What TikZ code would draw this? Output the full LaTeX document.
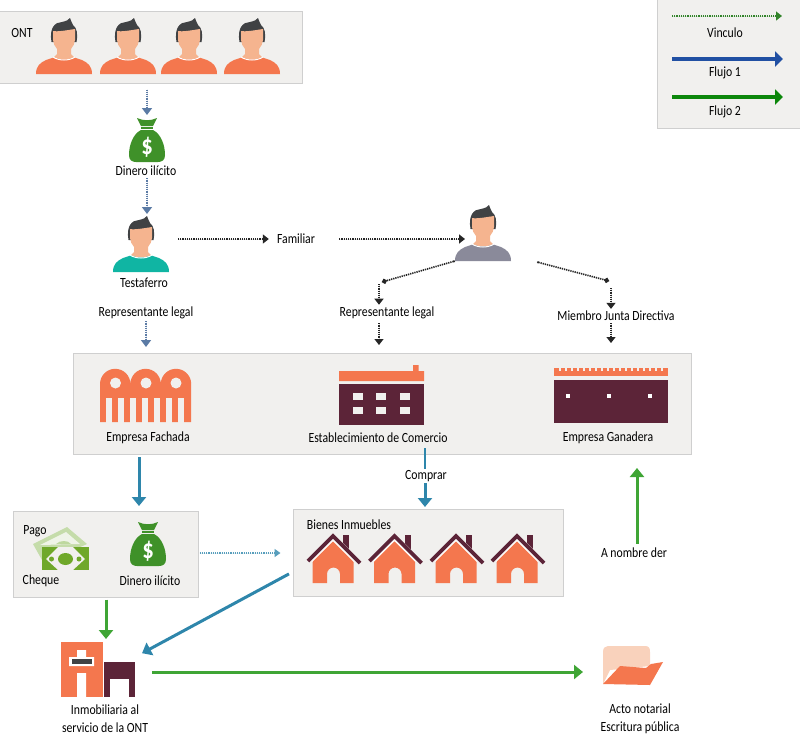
\documentclass[tikz,border=0pt]{standalone}
\usepackage{fontspec}
\setmainfont[FakeStretch=0.84]{Carlito}
\usepackage{xcolor}
\usetikzlibrary{arrows.meta,calc}
\definecolor{panelfill}{HTML}{F1F0EE}
\definecolor{panelline}{HTML}{CFCFCF}
\definecolor{shirt}{HTML}{F4774E}
\definecolor{skin}{HTML}{F5B48F}
\definecolor{hair}{HTML}{404244}
\definecolor{maroon}{HTML}{5C2438}
\definecolor{money}{HTML}{3F9129}
\definecolor{leaf}{HTML}{6FA82A}
\definecolor{flowteal}{HTML}{2E86AB}
\definecolor{flowgreen}{HTML}{3FA535}
\definecolor{flowblue}{HTML}{2150A3}
\definecolor{steel}{HTML}{5B7BA5}
\definecolor{tealshirt}{HTML}{10B5A3}
\definecolor{greyshirt}{HTML}{8A8A9A}
\tikzset{
  panel/.style={draw=panelline, fill=panelfill, line width=1pt, inner sep=0pt},
  holder/.style={inner sep=0pt, outer sep=0pt},
  lbl/.style={font=\fontsize{14}{18}\selectfont, inner sep=1pt, text=black},
  link/.style={line width=1.7pt, dash pattern=on 1.2pt off 1pt, draw=black!85, -{Triangle[length=6pt,width=9pt]}},
  steelink/.style={link, draw=steel, -{Triangle[length=7pt,width=10pt]}},
  tealflow/.style={line width=3pt, flowteal, -{Triangle[length=9pt,width=14pt]}},
  greenflow/.style={line width=3pt, flowgreen, -{Triangle[length=9pt,width=14pt]}},
  pics/person/.style={code={
    \fill[#1] (-28,0) .. controls (-28,-8) and (-24,-11) .. (-18,-14) -- (-9,-17) -- (9,-17) -- (18,-14) .. controls (24,-11) and (28,-8) .. (28,0) -- cycle;
    \fill[skin] (-7,-27) -- (-7,-20) -- (-10,-17) .. controls (-5,-14) and (5,-14) .. (10,-17) -- (7,-20) -- (7,-27) -- cycle;
    \draw[white, line width=1pt] (-11,-17) .. controls (-5,-13) and (5,-13) .. (11,-17);
    \fill[hair] (-12.5,-32) .. controls (-15,-46) and (-9,-52) .. (-2,-52) .. controls (2,-53) and (5,-54) .. (6,-56) .. controls (7,-53) and (8,-51) .. (9,-49) .. controls (13,-46) and (14,-40) .. (12.5,-32) -- cycle;
    \fill[skin] (-11,-43) .. controls (-6,-42) and (4,-44) .. (11,-45) -- (11,-34) .. controls (10.5,-27) and (5,-22) .. (0,-22) .. controls (-5,-22) and (-10.5,-27) .. (-11,-34) -- cycle;
  }},
  pics/moneybag/.style={code={
    \fill[money] (-10,-44) .. controls (-4,-41) and (4,-41) .. (10,-44) -- (6,-36) -- (-6,-36) -- cycle;
    \fill[money] (-6,-35) rectangle (6,-33);
    \fill[money] (-6,-32) -- (6,-32) .. controls (14,-28) and (18,-17) .. (18,-7) .. controls (18,-2) and (15,0) .. (11,0) -- (-11,0) .. controls (-15,0) and (-18,-2) .. (-18,-7) .. controls (-18,-17) and (-14,-28) .. (-6,-32) -- cycle;
    \node[text=white, font=\fontsize{27}{27}\selectfont\bfseries, inner sep=0pt] at (0,-15) {\$};
  }},
  pics/house/.style={code={
    \fill[maroon] (10,-48) rectangle (16,-30);
    \fill[panelfill] (0,-50) -- (20,-30) -- (10,-24) -- (-10,-24) -- cycle;
    \fill[shirt] (-20.5,-22) -- (0,-42) -- (20.5,-22) -- (20.5,0) -- (7,0) -- (7,-9) arc (0:-180:6.5) -- (-6,0) -- (-20.5,0) -- cycle;
    \draw[white, line width=1pt] (-21,-21.5) -- (0,-42.5) -- (21,-21.5);
    \draw[maroon, line width=3.8pt] (-25,-22) -- (0,-47) -- (27,-20);
  }}
}
\begin{document}
\begin{tikzpicture}[x=1pt, y=-1pt]
\useasboundingbox (0,0) rectangle (800,740);
% panels
\node[panel, minimum width=304pt, minimum height=72pt] (ontbox) at (150,47) {};
\node[panel, minimum width=144pt, minimum height=130pt] (legendbox) at (729,63) {};
\node[panel, minimum width=618pt, minimum height=101pt] (mainbox) at (382,404) {};
\node[panel, minimum width=185pt, minimum height=86pt] (paybox) at (105.5,554) {};
\node[panel, minimum width=270pt, minimum height=87pt] (housebox) at (428,552.5) {};
% people
\foreach \px in {64,128,189,252}
  \pic at (\px,74) {person=shirt};
\pic at (141,272) {person=tealshirt};
\pic at (483,261) {person=greyshirt};
\node[holder, minimum width=56pt, minimum height=56pt] (testaferro) at (141,244) {};
\node[holder, minimum width=56pt, minimum height=56pt] (relative) at (483,233) {};
% money bags
\pic at (147,162) {moneybag};
\pic at (148,566) {moneybag};
\node[holder, minimum width=36pt, minimum height=44pt] (bagtop) at (147,140) {};
\node[holder, minimum width=36pt, minimum height=46pt] (bagpay) at (148,543) {};
% cheque
\fill[leaf!40!white] (33,544) -- (67,527) -- (87,544) -- (60,556) -- (42,560) -- cycle;
\fill[panelfill!70!leaf!30!white] (40,545) -- (66,532) -- (80,544) -- cycle;
\fill[leaf!45!white] (56,544) .. controls (60,540) and (68,540) .. (71,544) -- cycle;
\fill[leaf] (42,547) rectangle (89,570);
\fill[panelfill] (46,559) -- (58,547) -- (73,547) -- (85,559) -- (73,570) -- (58,570) -- cycle;
\fill[leaf] (65.5,559) ellipse (7.5 and 6) (51.5,559) circle (2.5) (79,559) circle (2.5);
% fachada
\fill[shirt] (100,384) arc (180:360:15.2) arc (180:360:15.2) arc (180:360:15.2) -- (191,422) -- (100,422) -- cycle;
\foreach \cx in {115.5,146,176}
  \fill[panelfill] (\cx,383) circle (5.5);
\foreach \gx in {106,118,130,142,154,166,178}
  \fill[panelfill] (\gx,398) rectangle ++(6,24.5);
% comercio
\fill[shirt] (339,371) rectangle (424,381) (413,365) rectangle (418.5,371);
\fill[maroon] (339,384) rectangle (424,425);
\foreach \wx in {358,381,405}
  \foreach \wy in {396,410}
    \fill[panelfill] (\wx-5,\wy-3.5) rectangle ++(10,7);
% ganadera
\fill[shirt] (554,368) rectangle (668,376);
\foreach \i in {0,...,17}
  \fill[panelfill] (558.5+\i*6,368) rectangle ++(2,3);
\fill[maroon] (554,380) rectangle (668,423);
\foreach \sx in {568,609,650}
  \fill[white] (\sx-2,394) rectangle ++(4,4);
% houses
\foreach \hx in {333,394.5,456,517}
  \pic at (\hx,583) {house};
% inmobiliaria
\fill[shirt] (61,642) rectangle (103,697);
\fill[white] (77,650) rectangle (86,666) (69,657) rectangle (94,666) (77,673) rectangle (86,697);
\fill[hair] (72,659) rectangle (92,664);
\fill[maroon] (104,662) rectangle (135,697);
\fill[white] (110,679) rectangle (129,697);
\node[holder, minimum width=74pt, minimum height=55pt] (inmo) at (98,669.5) {};
% folder
\fill[skin!60!white] (603,684) -- (603,652) .. controls (603,648) and (605,646) .. (608,646) -- (645,646) .. controls (649,646) and (650,648) .. (650,652) -- (650,666) -- (610,670) -- cycle;
\fill[shirt] (603,684) -- (620,666) -- (646,668) -- (651,664) -- (663,662) -- (650,685) -- cycle;
\node[holder, minimum width=60pt, minimum height=40pt] (folder) at (633,665) {};
% labels
\node[lbl] (ontlbl) at (22,33) {ONT};
\node[lbl] (dinerotop) at (146,171) {Dinero ilícito};
\node[lbl] (testalbl) at (144,283) {Testaferro};
\node[lbl] (replegala) at (146,313) {Representante legal};
\node[lbl] (familiar) at (296,239) {Familiar};
\node[lbl] (replegalb) at (387,313) {Representante legal};
\node[lbl] (miembro) at (616,316) {Miembro Junta Directiva};
\node[lbl] (fachada) at (148,438) {Empresa Fachada};
\node[lbl] (comercio) at (378,438) {Establecimiento de Comercio};
\node[lbl] (ganadera) at (608,438) {Empresa Ganadera};
\node[lbl] (comprar) at (426,476) {Comprar};
\node[lbl] (pago) at (35,531) {Pago};
\node[lbl] (cheque) at (41,581) {Cheque};
\node[lbl] (dineropay) at (150,581) {Dinero ilícito};
\node[lbl] (bienes) at (349,525) {Bienes Inmuebles};
\node[lbl] (anombre) at (634,553) {A nombre der};
\node[lbl, align=center] (inmolbl) at (105,719) {Inmobiliaria al\\servicio de la ONT};
\node[lbl, align=center] (actolbl) at (640,719) {Acto notarial\\Escritura pública};
\node[lbl] (vinculo) at (725,33) {Vinculo};
\node[lbl] (flujoa) at (725,73) {Flujo 1};
\node[lbl] (flujob) at (725,112) {Flujo 2};
% legend
\coordinate (legstarta) at (672,16); \coordinate (legenda) at (782,16);
\coordinate (legstartb) at (672,59); \coordinate (legendb) at (783,59);
\coordinate (legstartc) at (672,97); \coordinate (legendc) at (783,97);
\draw[link, draw=flowgreen!80!black, fill=flowgreen!80!black, line width=1.2pt] (legstarta) -- (legenda);
\draw[line width=3.5pt, flowblue, -{Triangle[length=8pt,width=15pt]}] (legstartb) -- (legendb);
\draw[line width=3.5pt, green!50!black!80!flowgreen, -{Triangle[length=8pt,width=15pt]}] (legstartc) -- (legendc);
% links
\draw[steelink, fill=steel, shorten <=6pt, shorten >=3pt] (ontbox.south -| bagtop.north) -- (bagtop.north);
\draw[steelink, fill=steel, shorten <=1pt, shorten >=2pt] (dinerotop.south -| bagtop.north) -- (testaferro.north -| bagtop.north);
\draw[steelink, fill=steel, shorten <=1pt, shorten >=6pt] (replegala.south) -- (mainbox.north -| replegala.south);
\draw[link, fill=black!85, shorten <=9pt, shorten >=7pt] (testaferro.east |- familiar.west) -- (familiar.west);
\draw[link, fill=black!85, shorten <=23pt, shorten >=18pt] (familiar.east) -- (relative.center |- familiar.east);
\coordinate (kneeb) at (379,283);
\coordinate (kneec) at (611,284);
\draw[link, fill=black!85, {Circle[length=2pt]}-{Circle[length=5pt]}] (relative.south west) -- (382,282);
\draw[link, fill=black!85, line width=1.2pt, shorten <=1pt, shorten >=1pt] (kneeb) -- (kneeb |- replegalb.north);
\draw[link, fill=black!85, line width=1.2pt, shorten <=3pt, shorten >=8pt] (kneeb |- replegalb.south) -- (kneeb |- mainbox.north);
\coordinate (tiestart) at (537,262);
\draw[link, fill=black!85, {Circle[length=2pt]}-{Circle[length=5pt]}] (tiestart) -- (609,281);
\draw[link, fill=black!85, line width=1.2pt, shorten <=4pt, shorten >=1pt] (kneec) -- (kneec |- miembro.north);
\draw[link, fill=black!85, line width=1.2pt, shorten <=1pt, shorten >=10pt] (kneec |- miembro.south) -- (kneec |- mainbox.north);
% flows
\draw[tealflow, shorten <=2pt, shorten >=4pt] (139,455) -- (139,510);
\draw[flowteal, line width=1.5pt] (comprar.north -| 425,0) ++(0,-21) -- (comprar.north -| 425,0);
\draw[tealflow] (comprar.south -| 425,0) -- (425,507);
\draw[link, draw=flowteal!80!white, fill=flowteal!80!white, -{Triangle[length=6pt,width=8pt]}, line width=1.6pt, shorten <=1pt, shorten >=12pt] (paybox.east |- 0,553) -- (housebox.west |- 0,553);
\draw[tealflow, shorten <=4pt, shorten >=8pt] (housebox.west |- 0,572) -- (inmo.east |- 0,657);
\draw[greenflow, shorten <=2pt, shorten >=3pt] (paybox.south -| 106,0) -- (inmo.north -| 106,0);
\draw[greenflow, shorten <=17pt, shorten >=20pt] (inmo.east |- 0,672) -- (folder.west |- 0,672);
\draw[greenflow, shorten <=3pt] (anombre.north -| 637,0) -- (637,468);
\end{tikzpicture}
\end{document}
